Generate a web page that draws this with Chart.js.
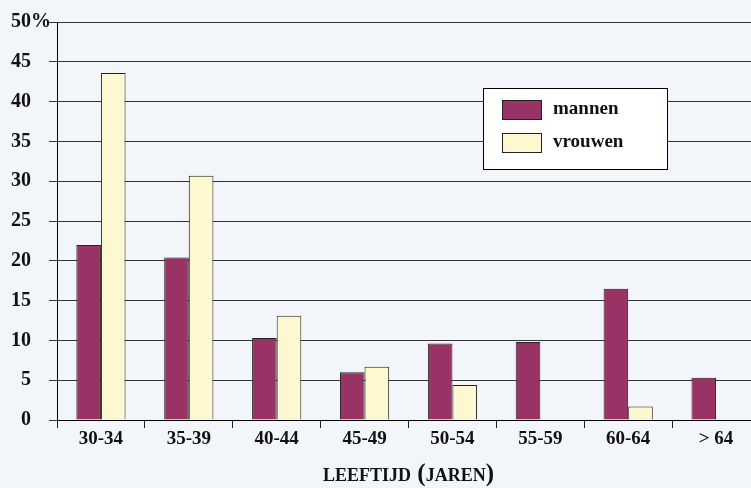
<!DOCTYPE html>
<html>
<head>
<meta charset="utf-8">
<script src="https://cdn.jsdelivr.net/npm/chart.js@4/dist/chart.umd.min.js"></script>
<style>
  html, body { margin: 0; padding: 0; background: #f2f5fa; overflow: hidden; width: 751px; height: 488px; }
  #wrap { position: relative; width: 760px; height: 488px; }
</style>
</head>
<body>
<div id="wrap"><canvas id="chart" width="760" height="488"></canvas></div>
<script>
// Age groups and percentages per sex
const ageGroups = ['30-34', '35-39', '40-44', '45-49', '50-54', '55-59', '60-64', '> 64'];
const mannen = [22.0, 20.4, 10.3, 6.0, 9.6, 9.8, 16.5, 5.3];
const vrouwen = [43.6, 30.7, 13.1, 6.7, 4.4, 0, 1.7, 0];
const yTickLabels = ['0', '5', '10', '15', '20', '25', '30', '35', '40', '45', '50%'];
const seriesNames = ['mannen', 'vrouwen'];
const xAxisTitle = 'leeftijd (jaren)';

const SERIF = "'Liberation Serif', 'Times New Roman', serif";
const INK = '#111';

// Boxed legend inside the plot, drawn from the datasets
const boxLegend = {
  id: 'boxLegend',
  afterDraw(chart) {
    const ctx = chart.ctx;
    const x0 = 483.5, y0 = 88.5, w = 184, h = 81;
    ctx.save();
    ctx.fillStyle = '#ffffff';
    ctx.fillRect(x0, y0, w, h);
    ctx.strokeStyle = '#000';
    ctx.lineWidth = 1;
    ctx.strokeRect(x0, y0, w, h);
    chart.data.datasets.forEach((ds, i) => {
      const sy = 100.5 + i * 33;
      ctx.fillStyle = ds.backgroundColor;
      ctx.fillRect(502.5, sy, 39, 19);
      ctx.strokeStyle = '#222';
      ctx.strokeRect(502.5, sy, 39, 19);
      ctx.fillStyle = INK;
      ctx.font = 'bold 19px ' + SERIF;
      ctx.textBaseline = 'middle';
      ctx.textAlign = 'left';
      ctx.fillText(ds.label, 553, sy + 9);
    });
    ctx.restore();
  }
};

new Chart(document.getElementById('chart'), {
  type: 'bar',
  data: {
    labels: ageGroups,
    datasets: [
      { label: seriesNames[0], data: mannen, backgroundColor: '#993366', borderColor: '#222', borderWidth: 1 },
      { label: seriesNames[1], data: vrouwen, backgroundColor: '#fdf8cf', borderColor: '#222', borderWidth: 1 }
    ]
  },
  options: {
    responsive: false,
    animation: false,
    devicePixelRatio: 1,
    events: [],
    layout: { padding: { left: 11, top: 22, right: 0, bottom: 0 } },
    datasets: { bar: { categoryPercentage: 0.56, barPercentage: 1.0 } },
    plugins: { legend: { display: false }, tooltip: { enabled: false } },
    scales: {
      x: {
        afterFit(s) { s.height = 68; },
        grid: { offset: true, drawOnChartArea: false, drawTicks: true, tickLength: 8, color: '#222', lineWidth: 1 },
        border: { display: true, color: '#000', width: 1 },
        ticks: { padding: 0, color: INK, font: { family: SERIF, size: 19, weight: 'bold' }, maxRotation: 0, autoSkip: false },
        title: {
          display: true,
          text: xAxisTitle,
          color: INK,
          padding: { top: 0, bottom: 0 },
          font: { family: SERIF, size: 25, weight: 'small-caps bold', lineHeight: 1.1 }
        }
      },
      y: {
        min: 0,
        max: 50,
        afterFit(s) { s.width = 46; },
        grid: { color: '#333', lineWidth: 1, drawTicks: true, tickLength: 8 },
        border: { display: true, color: '#000', width: 1 },
        ticks: {
          stepSize: 5,
          padding: 0,
          crossAlign: 'far',
          color: INK,
          font: { family: SERIF, size: 20, weight: 'bold' },
          callback: (v, i) => yTickLabels[i].padStart(2, '\u2007')
        }
      }
    }
  },
  plugins: [boxLegend]
});
</script>
</body>
</html>
